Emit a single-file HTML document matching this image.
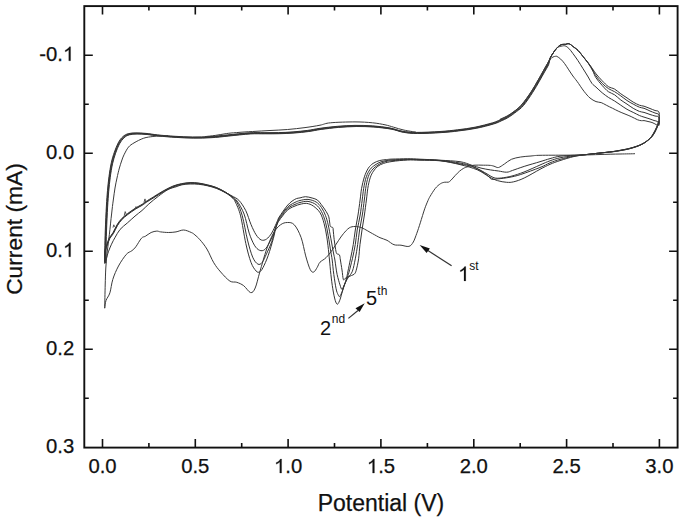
<!DOCTYPE html>
<html><head><meta charset="utf-8"><style>
html,body{margin:0;padding:0;background:#fff;}
svg{display:block;font-family:"Liberation Sans",sans-serif;}
</style></head><body>
<svg width="685" height="522" viewBox="0 0 685 522">
<path d="M102.5,6.1v8.5M102.5,447.6v-8.5M148.9,6.1v4.5M148.9,447.6v-4.5M195.3,6.1v8.5M195.3,447.6v-8.5M241.7,6.1v4.5M241.7,447.6v-4.5M288.1,6.1v8.5M288.1,447.6v-8.5M334.5,6.1v4.5M334.5,447.6v-4.5M380.9,6.1v8.5M380.9,447.6v-8.5M427.4,6.1v4.5M427.4,447.6v-4.5M473.8,6.1v8.5M473.8,447.6v-8.5M520.2,6.1v4.5M520.2,447.6v-4.5M566.6,6.1v8.5M566.6,447.6v-8.5M613.0,6.1v4.5M613.0,447.6v-4.5M659.4,6.1v8.5M659.4,447.6v-8.5M84.3,55.2h8.5M677.6,55.2h-8.5M84.3,104.2h4.5M677.6,104.2h-4.5M84.3,153.2h8.5M677.6,153.2h-8.5M84.3,202.2h4.5M677.6,202.2h-4.5M84.3,251.2h8.5M677.6,251.2h-8.5M84.3,300.2h4.5M677.6,300.2h-4.5M84.3,349.2h8.5M677.6,349.2h-8.5M84.3,398.2h4.5M677.6,398.2h-4.5" stroke="#111" stroke-width="1.6" fill="none"/>
<rect x="84.3" y="6.1" width="593.3" height="441.5" stroke="#111" stroke-width="1.9" fill="none"/>
<text x="88.39" y="473.00" font-size="20.3" fill="#111" stroke="#111" stroke-width="0.25">0.0</text>
<text x="181.21" y="473.00" font-size="20.3" fill="#111" stroke="#111" stroke-width="0.25">0.5</text>
<path transform="translate(274.02,473.00) scale(0.009912,-0.009912)" d="M763,0L583,0L583,1098C540,1059 483,1019 413,980C343,941 280,911 223,891L223,1058C324,1103 413,1158 488,1222C563,1286 616,1350 647,1409L763,1409Z" fill="#111" stroke="#111" stroke-width="25.2"/><text x="285.31" y="473.00" font-size="20.3" fill="#111" stroke="#111" stroke-width="0.25">.0</text>
<path transform="translate(366.84,473.00) scale(0.009912,-0.009912)" d="M763,0L583,0L583,1098C540,1059 483,1019 413,980C343,941 280,911 223,891L223,1058C324,1103 413,1158 488,1222C563,1286 616,1350 647,1409L763,1409Z" fill="#111" stroke="#111" stroke-width="25.2"/><text x="378.13" y="473.00" font-size="20.3" fill="#111" stroke="#111" stroke-width="0.25">.5</text>
<text x="459.65" y="473.00" font-size="20.3" fill="#111" stroke="#111" stroke-width="0.25">2.0</text>
<text x="552.47" y="473.00" font-size="20.3" fill="#111" stroke="#111" stroke-width="0.25">2.5</text>
<text x="645.28" y="473.00" font-size="20.3" fill="#111" stroke="#111" stroke-width="0.25">3.0</text>
<text x="39.32" y="60.70" font-size="20.3" fill="#111" stroke="#111" stroke-width="0.25">-0.</text><path transform="translate(63.01,60.70) scale(0.009912,-0.009912)" d="M763,0L583,0L583,1098C540,1059 483,1019 413,980C343,941 280,911 223,891L223,1058C324,1103 413,1158 488,1222C563,1286 616,1350 647,1409L763,1409Z" fill="#111" stroke="#111" stroke-width="25.2"/>
<text x="46.08" y="158.70" font-size="20.3" fill="#111" stroke="#111" stroke-width="0.25">0.0</text>
<text x="46.08" y="256.70" font-size="20.3" fill="#111" stroke="#111" stroke-width="0.25">0.</text><path transform="translate(63.01,256.70) scale(0.009912,-0.009912)" d="M763,0L583,0L583,1098C540,1059 483,1019 413,980C343,941 280,911 223,891L223,1058C324,1103 413,1158 488,1222C563,1286 616,1350 647,1409L763,1409Z" fill="#111" stroke="#111" stroke-width="25.2"/>
<text x="46.08" y="354.70" font-size="20.3" fill="#111" stroke="#111" stroke-width="0.25">0.2</text>
<text x="46.08" y="452.70" font-size="20.3" fill="#111" stroke="#111" stroke-width="0.25">0.3</text>
<text x="381" y="510.8" font-size="23" text-anchor="middle" fill="#111" stroke="#111" stroke-width="0.25">Potential (V)</text>
<text transform="translate(22.3,229) rotate(-90)" font-size="22.8" text-anchor="middle" fill="#111" stroke="#111" stroke-width="0.25">Current (mA)</text>
<path d="M658.6,121.5C658.5,122.0 658.6,123.1 658.2,124.5C657.8,125.9 657.1,127.8 656.2,129.7C655.3,131.6 654.1,134.0 652.8,135.7C651.5,137.4 650.0,138.7 648.4,140.0C646.8,141.3 645.2,142.4 643.3,143.4C641.4,144.4 639.7,145.1 637.2,146.0C634.8,146.9 631.5,147.9 628.6,148.6C625.7,149.3 622.6,149.8 620.0,150.3C617.4,150.8 616.6,151.0 613.0,151.5C609.4,152.0 602.9,152.7 598.4,153.2C593.9,153.7 590.1,154.2 586.0,154.6C581.9,154.9 578.3,155.0 574.0,155.3C569.7,155.6 564.0,155.6 560.0,156.2C556.0,156.8 553.3,157.7 550.0,158.6C546.7,159.5 544.3,160.4 540.0,161.7C535.7,163.0 528.8,164.9 524.2,166.4C519.6,167.9 515.5,169.4 512.6,170.4C509.7,171.4 509.1,172.1 506.7,172.2C504.3,172.3 501.2,171.4 498.5,171.0C495.8,170.6 493.3,170.4 490.4,169.9C487.5,169.4 484.1,168.9 481.0,168.1C477.9,167.3 475.2,166.3 471.7,165.2C468.2,164.1 465.3,162.5 460.0,161.7C454.7,160.9 446.7,160.6 440.0,160.2C433.3,159.8 425.4,159.4 420.0,159.2C414.6,159.0 412.3,158.8 407.6,158.8C402.9,158.8 395.5,159.0 392.0,159.1C388.5,159.2 388.4,159.4 386.4,159.6C384.4,159.8 382.0,159.9 379.8,160.5C377.6,161.1 375.0,162.1 373.1,163.4C371.2,164.7 369.8,166.0 368.3,168.2C366.9,170.4 365.5,173.5 364.4,176.8C363.3,180.2 362.3,184.4 361.6,188.3C360.9,192.2 360.7,195.6 360.1,200.0C359.5,204.4 358.8,210.0 358.0,215.0C357.2,220.0 356.1,225.1 355.3,230.0C354.5,234.9 354.1,239.6 353.3,244.4C352.5,249.2 351.4,254.4 350.5,258.8C349.6,263.2 348.7,267.7 348.0,271.0C347.3,274.3 347.0,276.6 346.4,278.8C345.8,281.0 345.3,282.1 344.6,284.1C343.9,286.2 343.1,288.6 342.4,291.1C341.7,293.6 341.0,296.9 340.2,299.1C339.4,301.3 338.3,304.0 337.5,304.2C336.7,304.4 336.0,302.9 335.2,300.3C334.4,297.7 333.5,293.1 332.8,288.8C332.1,284.5 331.4,279.2 330.9,274.4C330.3,269.6 329.9,263.6 329.5,260.0C329.1,256.4 329.2,256.9 328.8,253.0C328.4,249.2 327.6,241.8 326.8,236.9C326.0,232.0 325.2,227.5 324.1,223.5C323.0,219.5 321.9,215.7 320.1,212.8C318.3,209.9 315.6,207.7 313.4,206.1C311.2,204.5 308.9,203.7 306.7,203.4C304.5,203.1 301.9,203.9 300.0,204.3C298.1,204.7 296.7,205.3 295.0,206.0C293.3,206.7 291.5,207.4 290.0,208.3C288.5,209.2 287.2,210.3 286.0,211.6C284.8,212.9 283.7,214.4 282.5,216.0C281.3,217.6 279.7,219.5 278.6,221.4C277.5,223.3 276.9,224.7 276.0,227.5C275.1,230.3 274.7,233.6 273.4,238.3C272.1,243.0 269.9,250.6 268.2,255.5C266.5,260.4 264.4,264.9 263.0,267.6C261.6,270.3 260.8,271.3 259.6,271.9C258.5,272.5 257.5,272.6 256.1,271.0C254.7,269.4 252.7,267.0 251.0,262.4C249.3,257.8 247.5,251.2 245.8,243.4C244.1,235.7 242.3,222.8 240.6,215.9C238.9,209.0 236.8,205.2 235.4,202.1C234.0,199.0 233.7,199.1 232.0,197.5C230.3,195.9 227.7,194.0 225.1,192.5C222.5,191.0 219.3,189.5 216.4,188.4C213.5,187.3 210.5,186.5 207.6,185.8C204.7,185.1 201.7,184.6 198.8,184.3C195.9,184.0 192.9,183.9 190.1,184.0C187.3,184.1 184.3,184.3 182.0,184.8C179.7,185.3 178.3,186.0 176.0,186.8C173.7,187.6 170.8,188.0 167.9,189.6C165.0,191.2 161.5,193.9 158.3,196.3C155.1,198.7 151.5,201.6 148.8,204.0C146.1,206.4 144.3,208.5 142.0,210.5C139.7,212.5 137.4,214.0 135.0,216.1C132.6,218.2 129.8,220.8 127.3,223.0C124.8,225.2 122.0,227.1 120.0,229.5C118.0,231.9 116.6,234.8 115.2,237.2C113.8,239.6 112.6,241.8 111.5,244.2C110.4,246.6 109.3,249.2 108.4,251.8C107.5,254.4 106.7,257.6 106.1,259.5C105.5,261.4 105.2,262.6 104.9,263.0C104.7,263.4 104.6,264.2 104.6,262.0C104.6,259.8 104.7,255.3 104.8,250.0C104.9,244.7 105.0,237.3 105.3,230.0C105.6,222.7 106.0,212.6 106.4,206.0C106.8,199.4 107.1,195.3 107.5,190.4C107.9,185.5 108.4,181.2 109.0,176.6C109.6,172.0 110.4,166.9 111.3,162.8C112.2,158.7 113.2,155.4 114.4,152.1C115.6,148.8 116.8,145.5 118.2,142.9C119.6,140.3 121.1,138.2 122.8,136.7C124.5,135.2 126.0,134.3 128.2,133.7C130.4,133.1 132.9,132.9 135.9,132.9C138.9,132.9 142.4,133.1 146.0,133.4C149.6,133.7 152.7,134.4 157.5,134.9C162.3,135.4 169.2,136.0 175.0,136.3C180.8,136.7 186.8,136.9 192.6,137.0C198.4,137.1 204.2,136.9 210.0,136.6C215.8,136.2 221.1,135.5 227.6,134.9C234.1,134.3 243.1,133.2 249.2,132.8C255.3,132.4 259.1,132.7 264.0,132.7C268.9,132.7 273.6,132.7 278.4,132.6C283.2,132.5 288.1,132.3 293.0,131.9C297.9,131.5 303.1,131.0 307.6,130.4C312.1,129.8 315.0,129.0 320.0,128.3C325.0,127.6 331.7,126.8 337.5,126.3C343.3,125.8 349.1,125.5 355.0,125.4C360.9,125.3 366.8,125.5 372.6,125.9C378.4,126.3 385.1,127.1 390.0,128.0C394.9,128.9 397.9,130.5 402.3,131.2C406.7,131.9 410.1,132.3 416.4,132.4C422.7,132.5 433.1,131.9 440.0,131.5C446.9,131.1 451.7,130.5 457.5,129.8C463.3,129.1 469.1,128.4 475.0,127.2C480.9,126.0 488.4,124.0 492.6,122.8C496.8,121.6 497.7,120.8 500.0,119.8C502.3,118.8 504.1,118.1 506.6,116.6C509.2,115.0 512.7,112.5 515.3,110.5C517.9,108.5 519.6,107.6 522.3,104.4C525.0,101.2 528.9,95.4 531.5,91.3C534.1,87.2 536.2,83.4 538.2,80.0C540.2,76.6 541.8,73.6 543.3,70.9C544.8,68.2 546.2,65.9 547.4,63.7C548.6,61.5 549.4,59.5 550.4,57.6C551.4,55.7 552.5,54.0 553.5,52.5C554.5,51.0 555.6,49.6 556.6,48.4C557.6,47.2 558.6,46.2 559.6,45.5C560.6,44.8 561.7,44.6 562.7,44.4C563.7,44.2 564.9,44.4 565.8,44.3C566.7,44.2 567.2,43.6 568.0,43.6C568.8,43.6 569.7,44.0 570.5,44.5C571.3,45.0 571.6,45.4 572.9,46.4C574.1,47.4 576.3,48.7 578.0,50.4C579.7,52.1 581.4,54.5 583.1,56.6C584.8,58.7 586.6,60.9 588.2,62.9C589.8,64.9 591.2,67.0 592.5,68.8C593.8,70.6 594.4,71.8 596.0,73.8C597.6,75.8 600.1,78.7 602.2,80.8C604.3,82.9 606.3,85.2 608.4,86.6C610.5,88.0 612.5,87.9 614.6,89.1C616.7,90.3 618.7,92.3 620.8,93.8C622.9,95.3 624.9,96.5 627.0,97.9C629.1,99.3 631.1,100.9 633.2,102.1C635.3,103.3 637.6,104.5 639.4,105.2C641.2,105.9 642.2,105.7 644.0,106.2C645.8,106.8 648.2,107.8 650.0,108.5C651.8,109.2 653.5,110.0 655.0,110.5C656.5,111.0 658.1,110.5 658.8,111.8C659.5,113.0 659.3,116.0 659.3,118.0C659.3,120.0 659.0,123.0 659.0,124.0" fill="none" stroke="#333" stroke-width="1.0" stroke-linejoin="round"/>
<path d="M658.6,121.5C658.5,122.0 658.5,123.2 658.0,124.7C657.5,126.1 656.7,128.1 655.8,130.0C654.8,131.9 653.6,134.3 652.3,136.0C651.0,137.7 649.5,139.0 647.9,140.3C646.4,141.6 644.7,142.7 642.8,143.7C641.0,144.7 639.2,145.4 636.8,146.3C634.3,147.2 631.1,148.1 628.2,148.8C625.4,149.5 622.3,150.0 619.8,150.5C617.2,150.9 616.4,151.1 612.9,151.6C609.3,152.0 602.9,152.7 598.4,153.2C593.9,153.7 590.1,154.2 586.0,154.6C581.9,155.0 578.3,155.2 574.0,155.7C569.7,156.2 564.0,157.0 560.0,157.8C556.0,158.7 553.3,159.6 550.0,160.8C546.7,162.0 544.3,163.1 540.0,165.0C535.7,166.9 528.7,170.2 524.0,172.0C519.3,173.8 515.8,175.0 512.0,176.0C508.2,177.0 504.3,177.7 501.3,178.0C498.3,178.3 496.2,178.4 494.0,177.8C491.8,177.2 490.2,175.7 488.0,174.5C485.8,173.3 483.7,171.9 481.0,170.5C478.3,169.1 475.2,167.2 471.7,166.0C468.2,164.8 465.3,163.9 460.0,163.0C454.7,162.1 446.7,161.0 440.0,160.4C433.3,159.8 425.4,159.7 420.0,159.5C414.6,159.3 412.3,159.1 407.6,159.2C402.9,159.3 395.4,159.7 392.0,159.9C388.6,160.1 388.8,160.2 387.0,160.5C385.2,160.8 383.0,161.1 381.0,161.8C379.0,162.6 376.8,163.7 375.0,165.0C373.2,166.3 371.4,167.5 370.0,169.5C368.6,171.5 367.4,173.7 366.3,176.8C365.2,179.9 364.4,184.4 363.7,188.3C363.0,192.2 362.8,195.6 362.2,200.0C361.6,204.4 361.0,210.0 360.2,215.0C359.4,220.0 358.0,225.1 357.2,230.0C356.4,234.9 356.1,239.6 355.3,244.4C354.5,249.2 353.4,254.2 352.4,258.8C351.3,263.4 349.9,268.9 349.0,272.2C348.1,275.5 347.5,276.8 346.8,278.8C346.1,280.8 345.5,282.2 344.8,284.1C344.1,286.0 343.4,288.4 342.8,290.0C342.2,291.6 341.8,292.7 341.2,293.8C340.6,294.9 340.0,296.5 339.5,296.6C339.0,296.7 338.6,295.8 338.0,294.5C337.4,293.2 336.8,292.2 336.1,288.8C335.4,285.4 334.5,279.2 333.8,274.4C333.1,269.6 332.7,263.8 332.2,260.0C331.7,256.2 331.5,255.8 330.8,251.7C330.1,247.6 329.1,240.5 328.2,235.6C327.3,230.7 326.6,226.2 325.5,222.2C324.4,218.2 323.0,214.3 321.4,211.4C319.8,208.5 318.3,206.4 316.1,204.7C313.9,203.0 310.7,201.8 308.0,201.4C305.3,201.0 302.2,202.0 300.0,202.5C297.8,203.0 296.7,203.7 295.0,204.4C293.3,205.1 291.5,205.8 290.0,206.8C288.5,207.8 287.2,208.9 286.0,210.2C284.8,211.5 283.7,212.9 282.5,214.6C281.3,216.3 279.8,218.2 278.6,220.3C277.4,222.5 276.6,223.9 275.5,227.5C274.4,231.1 273.2,237.3 271.7,241.7C270.2,246.1 268.1,250.4 266.5,253.8C264.9,257.2 263.6,260.7 262.2,262.4C260.8,264.1 259.5,265.0 257.9,264.1C256.3,263.2 254.4,261.2 252.7,257.2C251.0,253.2 249.2,246.9 247.5,240.0C245.8,233.1 244.0,222.1 242.3,215.9C240.6,209.7 238.9,206.1 237.2,202.9C235.5,199.8 234.0,198.8 232.0,197.0C230.0,195.2 227.7,193.5 225.1,191.9C222.5,190.3 219.3,188.7 216.4,187.5C213.5,186.3 210.5,185.6 207.6,184.9C204.7,184.2 201.7,183.5 198.8,183.1C195.9,182.7 193.0,182.5 190.1,182.6C187.2,182.7 184.2,183.1 181.3,183.7C178.4,184.3 175.7,185.0 172.7,186.2C169.7,187.4 166.3,189.2 163.1,191.0C159.9,192.8 156.5,195.0 153.6,196.8C150.7,198.6 147.8,200.3 145.9,201.6C144.0,202.9 143.8,203.3 142.0,204.4C140.2,205.5 137.4,206.8 135.0,208.4C132.6,210.0 129.6,212.0 127.3,213.8C125.0,215.6 122.9,217.2 121.2,219.1C119.5,221.0 118.3,222.7 116.9,225.0C115.5,227.3 114.3,230.5 113.0,232.7C111.7,234.9 110.2,236.1 109.2,238.0C108.2,239.9 107.6,242.4 106.9,244.2C106.2,246.0 105.6,247.4 105.2,249.0C104.8,250.6 104.6,251.8 104.6,254.0C104.6,256.2 104.9,263.0 105.0,262.4C105.1,261.8 105.1,255.7 105.2,250.4C105.3,245.0 105.4,237.7 105.7,230.4C106.0,223.0 106.4,213.0 106.8,206.4C107.2,199.8 107.5,195.7 107.9,190.8C108.3,185.9 108.8,181.6 109.4,177.0C110.0,172.4 110.8,167.3 111.7,163.2C112.6,159.1 113.7,155.8 114.8,152.5C116.0,149.2 117.2,145.8 118.6,143.3C120.0,140.7 121.5,138.6 123.2,137.1C124.9,135.5 126.4,134.7 128.6,134.1C130.8,133.4 133.3,133.3 136.3,133.3C139.3,133.2 142.8,133.4 146.4,133.8C150.0,134.1 153.1,134.8 157.9,135.3C162.7,135.8 169.6,136.3 175.4,136.7C181.2,137.0 187.2,137.3 193.0,137.4C198.8,137.4 204.6,137.3 210.4,137.0C216.2,136.6 221.5,135.9 228.0,135.3C234.5,134.6 243.5,133.5 249.6,133.2C255.7,132.8 259.5,133.1 264.4,133.1C269.3,133.0 274.0,133.1 278.8,133.0C283.6,132.8 288.5,132.6 293.4,132.3C298.3,131.9 303.5,131.4 308.0,130.8C312.5,130.2 315.4,129.4 320.4,128.7C325.4,128.0 332.1,127.2 337.9,126.7C343.7,126.2 349.5,125.8 355.4,125.8C361.2,125.7 367.2,125.8 373.0,126.3C378.8,126.7 385.4,127.5 390.4,128.4C395.3,129.3 398.3,130.8 402.7,131.6C407.1,132.3 410.5,132.7 416.8,132.8C423.1,132.8 433.5,132.3 440.4,131.9C447.2,131.4 452.1,130.9 457.9,130.2C463.7,129.5 469.5,128.7 475.4,127.6C481.2,126.4 488.8,124.4 493.0,123.2C497.2,121.9 498.1,121.2 500.4,120.2C502.7,119.1 504.4,118.5 507.0,117.0C509.6,115.4 513.1,112.9 515.7,110.9C518.3,108.8 520.0,108.0 522.7,104.8C525.4,101.6 529.2,95.7 531.9,91.7C534.5,87.6 536.6,83.8 538.6,80.4C540.6,77.0 542.2,74.0 543.7,71.3C545.2,68.6 546.7,66.4 547.8,64.1C548.9,61.8 549.4,59.5 550.4,57.6C551.4,55.7 552.5,54.0 553.5,52.5C554.5,51.0 555.6,49.6 556.6,48.4C557.6,47.2 558.6,46.2 559.6,45.5C560.6,44.8 561.7,44.6 562.7,44.4C563.7,44.2 564.9,44.4 565.8,44.3C566.7,44.2 567.2,43.6 568.0,43.6C568.8,43.6 569.7,44.0 570.5,44.5C571.3,45.0 571.6,45.4 572.9,46.4C574.1,47.4 576.3,48.7 578.0,50.4C579.7,52.1 581.4,54.5 583.1,56.6C584.8,58.7 586.6,60.7 588.2,62.9C589.8,65.1 591.5,67.8 592.8,70.0C594.1,72.2 594.4,73.6 596.0,75.8C597.6,78.0 600.1,81.3 602.2,83.4C604.3,85.5 606.3,87.2 608.4,88.6C610.5,90.0 612.5,90.5 614.6,91.7C616.7,92.9 618.7,94.4 620.8,95.9C622.9,97.4 624.9,99.1 627.0,100.5C629.1,101.9 631.1,103.0 633.2,104.1C635.3,105.2 637.6,106.5 639.4,107.2C641.2,107.9 642.2,107.7 644.0,108.3C645.8,108.9 648.2,110.2 650.0,111.0C651.8,111.8 653.6,112.4 655.0,113.0C656.4,113.6 657.9,113.4 658.6,114.4C659.3,115.4 659.1,117.3 659.2,119.0C659.3,120.7 659.0,123.6 659.0,124.5" fill="none" stroke="#333" stroke-width="1.0" stroke-linejoin="round"/>
<path d="M658.6,121.5C658.5,122.0 658.3,123.3 657.8,124.8C657.2,126.3 656.3,128.4 655.3,130.3C654.3,132.2 653.2,134.6 651.9,136.3C650.6,138.0 649.1,139.3 647.5,140.6C645.9,141.9 644.3,143.0 642.4,144.0C640.5,145.0 638.7,145.8 636.3,146.6C633.9,147.4 630.7,148.4 627.9,149.1C625.1,149.7 622.1,150.2 619.5,150.6C617.0,151.0 616.3,151.2 612.7,151.7C609.2,152.1 602.9,152.7 598.4,153.2C593.9,153.7 590.1,154.1 586.0,154.6C581.9,155.1 578.3,155.3 574.0,156.1C569.7,156.9 564.0,158.3 560.0,159.4C556.0,160.5 553.3,161.5 550.0,162.8C546.7,164.2 544.9,165.6 540.0,167.5C535.1,169.4 525.9,172.8 520.7,174.5C515.5,176.2 512.7,176.7 509.0,177.4C505.3,178.1 501.4,178.5 498.5,178.8C495.6,179.1 493.2,179.7 491.5,179.2C489.8,178.7 489.8,177.1 488.0,175.7C486.2,174.3 483.7,172.6 481.0,171.0C478.3,169.4 475.2,167.6 471.7,166.4C468.2,165.2 465.3,165.0 460.0,164.0C454.7,163.0 446.7,161.3 440.0,160.6C433.3,159.9 425.4,160.0 420.0,159.8C414.6,159.6 412.3,159.4 407.6,159.6C402.9,159.8 395.4,160.4 392.0,160.7C388.6,161.0 389.2,160.8 387.5,161.2C385.8,161.5 383.8,162.0 382.0,162.8C380.2,163.6 378.2,164.8 376.5,166.0C374.8,167.2 373.2,168.5 371.8,170.3C370.4,172.1 369.2,173.8 368.2,176.8C367.2,179.8 366.3,184.4 365.7,188.3C365.1,192.2 364.9,195.6 364.3,200.0C363.7,204.4 363.1,210.0 362.3,215.0C361.5,220.0 360.4,225.1 359.6,230.0C358.8,234.9 358.4,239.6 357.7,244.4C357.0,249.2 356.2,254.3 355.3,258.8C354.4,263.3 353.5,268.2 352.4,271.2C351.3,274.2 349.6,275.3 348.5,277.0C347.4,278.7 346.8,280.0 346.0,281.5C345.2,283.0 344.5,284.7 343.8,286.0C343.1,287.3 342.5,289.6 341.9,289.4C341.3,289.2 340.8,287.4 340.0,284.9C339.2,282.4 338.0,278.5 337.1,274.4C336.2,270.2 335.5,263.6 334.9,260.0C334.3,256.4 334.2,256.6 333.5,253.0C332.8,249.4 331.7,243.0 330.8,238.3C329.9,233.6 329.1,228.7 328.2,224.9C327.3,221.1 326.6,218.4 325.5,215.5C324.4,212.6 323.0,209.7 321.4,207.4C319.8,205.2 318.3,203.3 316.1,202.0C313.9,200.7 310.7,199.7 308.0,199.4C305.3,199.2 302.2,200.0 300.0,200.5C297.8,201.0 296.7,201.6 295.0,202.4C293.3,203.2 291.5,204.1 290.0,205.2C288.5,206.3 287.2,207.4 286.0,208.8C284.8,210.2 283.7,211.7 282.5,213.4C281.3,215.1 279.8,216.5 278.6,219.2C277.4,221.9 276.6,225.9 275.1,229.7C273.7,233.4 271.6,238.4 269.9,241.7C268.2,245.0 266.5,248.1 264.8,249.5C263.1,250.9 261.3,251.0 259.6,250.3C257.9,249.6 256.1,248.1 254.4,245.2C252.7,242.3 250.9,238.3 249.2,233.1C247.5,227.9 246.1,219.4 244.1,214.1C242.1,208.8 239.2,204.1 237.2,201.2C235.2,198.3 234.0,198.0 232.0,196.5C230.0,195.0 227.9,193.7 225.3,192.2C222.8,190.8 219.6,189.0 216.7,187.8C213.7,186.7 210.8,186.0 207.8,185.2C204.9,184.5 202.0,183.8 199.1,183.4C196.1,183.1 193.3,182.8 190.3,182.9C187.4,183.0 184.5,183.4 181.6,184.0C178.7,184.6 176.0,185.3 172.9,186.5C169.9,187.8 166.5,189.6 163.3,191.3C160.2,193.1 156.7,195.4 153.8,197.2C151.0,198.9 148.1,200.7 146.2,201.9C144.2,203.2 144.1,203.6 142.2,204.8C140.4,205.9 137.7,207.2 135.2,208.8C132.8,210.3 129.8,212.4 127.5,214.2C125.2,215.9 123.2,217.6 121.5,219.4C119.7,221.3 118.5,223.1 117.2,225.3C115.8,227.6 114.5,230.9 113.2,233.0C112.0,235.2 110.5,236.4 109.5,238.3C108.4,240.3 107.8,242.7 107.2,244.5C106.5,246.4 105.8,247.7 105.5,249.3C105.1,251.0 104.9,252.1 104.8,254.3C104.8,256.6 105.3,263.4 105.4,262.8C105.5,262.2 105.5,256.1 105.6,250.8C105.7,245.4 105.8,238.1 106.1,230.8C106.4,223.4 106.8,213.4 107.2,206.8C107.6,200.2 107.9,196.1 108.3,191.2C108.7,186.3 109.2,182.0 109.8,177.4C110.4,172.8 111.2,167.6 112.1,163.6C113.0,159.5 114.0,156.2 115.2,152.9C116.4,149.5 117.6,146.2 119.0,143.7C120.4,141.1 121.9,139.0 123.6,137.5C125.3,135.9 126.8,135.1 129.0,134.5C131.2,133.8 133.7,133.7 136.7,133.7C139.7,133.6 143.2,133.8 146.8,134.2C150.4,134.5 153.5,135.2 158.3,135.7C163.1,136.1 170.0,136.7 175.8,137.1C181.7,137.4 187.6,137.7 193.4,137.8C199.2,137.8 205.0,137.7 210.8,137.4C216.6,137.0 221.9,136.3 228.4,135.7C234.9,135.0 243.9,133.9 250.0,133.6C256.1,133.2 259.9,133.5 264.8,133.5C269.7,133.4 274.4,133.5 279.2,133.4C284.0,133.2 288.9,133.0 293.8,132.7C298.7,132.3 303.9,131.8 308.4,131.2C312.9,130.6 315.8,129.7 320.8,129.1C325.8,128.4 332.5,127.5 338.3,127.1C344.1,126.6 349.9,126.2 355.8,126.2C361.7,126.1 367.6,126.2 373.4,126.7C379.2,127.1 385.9,127.9 390.8,128.8C395.8,129.6 398.7,131.2 403.1,132.0C407.5,132.7 410.9,133.1 417.2,133.2C423.5,133.2 433.9,132.7 440.8,132.3C447.7,131.8 452.5,131.3 458.3,130.6C464.1,129.8 469.9,129.1 475.8,128.0C481.7,126.8 489.2,124.8 493.4,123.6C497.6,122.3 498.5,121.6 500.8,120.6C503.1,119.5 504.9,118.9 507.4,117.4C510.0,115.8 513.5,113.3 516.1,111.3C518.7,109.2 520.4,108.4 523.1,105.2C525.8,102.0 529.6,96.1 532.3,92.1C534.9,88.0 537.0,84.2 539.0,80.8C541.0,77.4 542.6,74.4 544.1,71.7C545.6,68.9 547.1,66.8 548.2,64.5C549.2,62.1 549.5,59.6 550.4,57.6C551.3,55.6 552.5,54.0 553.5,52.5C554.5,51.0 555.6,49.6 556.6,48.4C557.6,47.2 558.6,46.2 559.6,45.5C560.6,44.8 561.7,44.6 562.7,44.4C563.7,44.2 564.9,44.4 565.8,44.3C566.7,44.2 567.2,43.6 568.0,43.6C568.8,43.6 569.7,44.0 570.5,44.5C571.3,45.0 571.6,45.4 572.9,46.4C574.1,47.4 576.3,48.7 578.0,50.4C579.7,52.1 581.4,54.4 583.1,56.6C584.8,58.8 586.8,61.1 588.4,63.5C590.0,65.9 591.5,68.6 592.8,71.0C594.1,73.4 594.4,75.4 596.0,77.8C597.6,80.2 600.1,83.2 602.2,85.5C604.3,87.8 606.3,90.2 608.4,91.7C610.5,93.2 612.5,93.4 614.6,94.8C616.7,96.2 618.7,98.5 620.8,100.0C622.9,101.5 624.9,102.7 627.0,104.1C629.1,105.5 631.1,107.1 633.2,108.3C635.3,109.5 637.6,110.7 639.4,111.4C641.2,112.1 642.2,111.9 644.0,112.4C645.8,112.9 648.2,113.9 650.0,114.5C651.8,115.1 653.6,115.6 655.0,116.0C656.4,116.4 657.7,116.0 658.4,116.8C659.1,117.6 658.9,119.6 659.0,121.0C659.1,122.4 659.0,124.3 659.0,125.0" fill="none" stroke="#333" stroke-width="1.0" stroke-linejoin="round"/>
<path d="M658.6,121.5C658.4,122.1 658.2,123.4 657.5,125.0C656.9,126.5 655.9,128.7 654.9,130.6C653.8,132.5 652.8,134.9 651.4,136.6C650.1,138.3 648.6,139.6 647.0,140.9C645.5,142.2 643.8,143.3 641.9,144.3C640.1,145.3 638.3,146.1 635.9,146.9C633.4,147.7 630.3,148.7 627.5,149.3C624.8,150.0 621.8,150.3 619.3,150.8C616.8,151.2 616.1,151.4 612.6,151.8C609.1,152.2 602.8,152.7 598.4,153.2C594.0,153.7 590.1,154.0 586.0,154.6C581.9,155.2 578.3,155.5 574.0,156.5C569.7,157.5 564.0,159.3 560.0,160.6C556.0,161.9 553.3,162.9 550.0,164.3C546.7,165.8 544.3,167.0 540.0,169.3C535.7,171.6 528.6,175.9 524.2,178.0C519.8,180.1 516.6,181.1 513.7,181.8C510.8,182.5 509.4,182.5 506.7,182.3C504.0,182.1 500.3,181.5 497.4,180.6C494.5,179.7 492.5,178.7 489.2,176.9C485.9,175.1 482.4,172.0 477.5,169.9C472.6,167.8 466.2,166.1 460.0,164.6C453.8,163.1 446.7,161.5 440.0,160.8C433.3,160.1 425.4,160.3 420.0,160.2C414.6,160.1 412.3,159.8 407.6,160.0C402.9,160.2 396.0,160.9 392.0,161.5C388.0,162.1 386.0,162.6 383.6,163.4C381.2,164.2 379.5,165.0 377.8,166.3C376.1,167.6 374.8,169.2 373.5,171.1C372.2,173.0 371.1,174.9 370.2,177.8C369.2,180.7 368.4,184.6 367.8,188.3C367.2,192.0 367.0,195.6 366.4,200.0C365.8,204.4 365.1,210.0 364.4,215.0C363.7,220.0 362.7,225.1 362.0,230.0C361.3,234.9 360.6,239.6 360.0,244.4C359.4,249.2 359.2,254.5 358.6,258.8C358.0,263.1 356.9,267.8 356.2,270.3C355.5,272.9 355.1,273.2 354.3,274.1C353.5,275.0 352.4,275.0 351.4,275.5C350.3,276.0 349.1,276.5 348.0,277.0C346.9,277.5 345.8,278.1 345.0,278.5C344.2,278.9 343.8,280.8 343.3,279.4C342.8,278.0 342.5,273.2 342.0,270.0C341.5,266.8 340.8,262.3 340.4,260.0C340.0,257.7 340.1,256.9 339.8,256.0C339.6,255.1 339.4,254.8 338.9,254.4C338.4,254.0 337.2,254.5 336.6,253.4C336.0,252.3 335.8,250.3 335.4,248.0C335.0,245.7 334.6,242.6 334.2,239.6C333.8,236.6 333.4,232.0 333.2,230.0C333.0,228.0 333.3,228.2 332.8,227.6C332.3,227.0 330.9,227.3 330.4,226.4C329.9,225.5 329.9,223.6 329.6,222.0C329.3,220.4 329.4,218.6 328.8,216.8C328.2,215.0 327.3,213.4 326.1,211.4C324.9,209.4 322.8,206.6 321.4,204.7C319.9,202.8 318.9,201.1 317.4,200.0C315.8,198.9 314.1,198.6 312.1,198.0C310.1,197.4 307.4,196.7 305.4,196.7C303.4,196.7 301.5,197.6 300.0,197.9C298.5,198.2 297.7,198.1 296.4,198.6C295.1,199.1 293.4,200.1 292.0,201.2C290.6,202.3 289.3,203.3 287.8,205.0C286.3,206.7 284.7,208.9 283.2,211.1C281.7,213.3 279.8,215.9 278.6,218.0C277.5,220.1 277.5,221.0 276.3,223.5C275.1,226.0 273.3,230.5 271.7,233.1C270.1,235.7 268.2,237.9 266.5,239.1C264.8,240.2 263.0,240.7 261.3,240.0C259.6,239.3 257.8,237.4 256.1,234.8C254.4,232.2 252.7,228.5 251.0,224.5C249.3,220.5 247.8,214.7 245.8,210.7C243.8,206.7 241.2,202.8 238.9,200.3C236.6,197.9 234.2,197.3 232.0,196.0C229.8,194.7 228.1,193.9 225.6,192.6C223.1,191.3 219.8,189.4 216.9,188.2C214.0,187.0 211.0,186.3 208.1,185.6C205.2,184.9 202.2,184.2 199.3,183.8C196.4,183.4 193.5,183.2 190.6,183.3C187.7,183.4 184.7,183.8 181.8,184.4C178.9,185.0 176.2,185.7 173.2,186.9C170.2,188.1 166.8,189.9 163.6,191.7C160.4,193.5 157.0,195.7 154.1,197.5C151.2,199.3 148.3,201.0 146.4,202.3C144.5,203.6 144.3,204.0 142.5,205.1C140.7,206.2 137.9,207.5 135.5,209.1C133.1,210.7 130.1,212.7 127.8,214.5C125.5,216.3 123.4,217.9 121.7,219.8C120.0,221.7 118.8,223.4 117.4,225.7C116.0,228.0 114.8,231.2 113.5,233.4C112.2,235.6 110.7,236.8 109.7,238.7C108.7,240.6 108.1,243.1 107.4,244.9C106.7,246.7 106.1,248.1 105.7,249.7C105.3,251.3 105.1,252.5 105.1,254.7C105.1,256.9 105.6,263.7 105.8,263.1C106.0,262.5 105.9,256.5 106.0,251.1C106.1,245.8 106.2,238.5 106.5,231.1C106.8,223.8 107.2,213.7 107.6,207.1C108.0,200.5 108.3,196.4 108.7,191.5C109.1,186.6 109.6,182.3 110.2,177.7C110.8,173.1 111.6,168.0 112.5,163.9C113.4,159.9 114.5,156.6 115.6,153.2C116.8,149.9 118.0,146.6 119.4,144.0C120.8,141.5 122.3,139.4 124.0,137.8C125.7,136.3 127.2,135.5 129.4,134.8C131.6,134.2 134.1,134.1 137.1,134.0C140.1,134.0 143.6,134.2 147.2,134.5C150.8,134.9 153.9,135.6 158.7,136.0C163.5,136.5 170.3,137.1 176.2,137.4C182.0,137.8 188.0,138.1 193.8,138.1C199.6,138.2 205.4,138.1 211.2,137.7C217.0,137.4 222.3,136.7 228.8,136.0C235.3,135.4 244.3,134.3 250.4,133.9C256.5,133.6 260.3,133.9 265.2,133.8C270.1,133.8 274.8,133.9 279.6,133.7C284.4,133.6 289.3,133.4 294.2,133.0C299.1,132.7 304.3,132.1 308.8,131.5C313.3,130.9 316.2,130.1 321.2,129.4C326.2,128.8 332.9,127.9 338.7,127.4C344.5,127.0 350.3,126.6 356.2,126.5C362.1,126.5 368.0,126.6 373.8,127.0C379.6,127.5 386.2,128.3 391.2,129.1C396.1,130.0 399.1,131.6 403.5,132.3C407.9,133.1 411.3,133.5 417.6,133.5C423.9,133.6 434.3,133.1 441.2,132.6C448.1,132.2 452.9,131.7 458.7,130.9C464.5,130.2 470.3,129.5 476.2,128.3C482.1,127.2 489.6,125.2 493.8,123.9C498.0,122.7 498.9,122.0 501.2,120.9C503.5,119.9 505.2,119.3 507.8,117.7C510.4,116.2 513.9,113.7 516.5,111.6C519.1,109.6 520.8,108.7 523.5,105.5C526.2,102.3 530.1,96.5 532.7,92.4C535.4,88.4 537.4,84.5 539.4,81.1C541.4,77.7 543.0,74.8 544.5,72.0C546.0,69.3 547.6,67.2 548.6,64.8C549.6,62.4 549.6,59.7 550.4,57.6C551.2,55.5 552.6,53.9 553.5,52.5C554.4,51.1 554.8,50.3 555.5,49.4C556.2,48.5 557.1,47.7 558.0,47.2C558.9,46.7 559.6,46.6 560.7,46.4C561.8,46.2 563.4,45.5 564.7,45.8C566.1,46.1 567.4,47.1 568.8,48.4C570.2,49.7 571.4,51.5 572.9,53.5C574.4,55.5 576.3,58.2 578.0,60.7C579.7,63.2 581.4,66.1 583.1,68.8C584.8,71.5 586.7,74.5 588.2,77.0C589.7,79.5 590.7,81.8 592.0,83.5C593.3,85.2 594.3,85.5 596.0,87.1C597.7,88.6 600.1,91.1 602.2,92.8C604.3,94.5 606.3,96.0 608.4,97.4C610.5,98.8 612.5,99.7 614.6,101.0C616.7,102.3 618.7,103.8 620.8,105.2C622.9,106.6 624.9,108.1 627.0,109.3C629.1,110.5 631.1,111.4 633.2,112.4C635.3,113.4 637.6,114.7 639.4,115.5C641.2,116.3 642.2,116.5 644.0,117.1C645.8,117.7 648.3,118.4 650.0,119.0C651.7,119.6 652.8,120.1 654.0,120.5C655.2,120.9 656.7,120.9 657.5,121.5C658.3,122.1 658.4,123.2 658.6,124.0C658.8,124.8 658.8,125.7 658.8,126.0" fill="none" stroke="#333" stroke-width="1.0" stroke-linejoin="round"/>
<path d="M635.0,153.7C632.5,153.8 625.8,153.9 620.0,154.0C614.2,154.1 606.2,154.3 600.0,154.5C593.8,154.7 588.8,154.9 583.0,155.0C577.2,155.1 572.2,155.1 565.0,155.2C557.8,155.2 545.7,155.2 540.0,155.3C534.3,155.4 534.2,155.7 531.0,156.0C527.8,156.3 524.0,156.4 520.7,157.0C517.4,157.6 514.1,158.1 511.4,159.3C508.7,160.5 506.5,162.6 504.4,164.0C502.2,165.4 500.2,167.1 498.5,167.5C496.8,167.9 495.4,166.5 494.0,166.2C492.6,165.8 492.2,165.6 490.4,165.4C488.6,165.2 486.1,165.2 483.4,165.2C480.7,165.2 476.7,164.9 474.0,165.2C471.3,165.5 468.9,166.4 467.2,166.9C465.5,167.4 465.1,167.5 463.8,168.2C462.5,168.9 460.9,170.0 459.5,171.2C458.1,172.4 456.6,174.0 455.2,175.5C453.8,177.0 452.0,179.2 450.9,180.3C449.8,181.4 449.3,181.9 448.3,182.2C447.3,182.5 446.1,181.9 444.8,182.2C443.5,182.4 442.1,182.7 440.5,183.7C438.9,184.7 437.0,186.3 435.3,188.4C433.6,190.5 431.4,194.2 430.2,196.2C429.0,198.2 428.9,198.4 428.0,200.5C427.1,202.6 426.0,205.1 424.7,208.8C423.4,212.5 421.6,218.7 420.3,222.8C419.0,226.9 418.0,230.1 416.8,233.3C415.6,236.5 414.6,239.8 413.3,242.0C412.0,244.2 410.9,245.9 408.9,246.4C406.8,246.9 403.5,245.5 401.0,245.2C398.5,244.9 396.3,245.5 394.0,244.7C391.7,243.9 389.3,241.5 387.0,240.3C384.7,239.1 382.4,238.8 380.0,237.7C377.6,236.6 375.6,235.3 372.6,233.7C369.6,232.1 364.9,229.1 362.0,227.9C359.1,226.7 357.1,226.5 355.0,226.5C352.9,226.5 351.1,226.7 349.2,227.9C347.3,229.1 345.2,231.6 343.4,233.7C341.6,235.8 340.2,238.0 338.4,240.7C336.5,243.4 334.4,247.1 332.3,249.9C330.2,252.7 328.2,255.6 326.1,257.6C324.1,259.7 321.5,260.6 320.0,262.2C318.5,263.8 318.2,265.8 317.2,267.4C316.2,269.0 314.9,271.6 313.8,272.0C312.7,272.4 311.7,272.4 310.3,269.7C308.9,267.0 307.2,261.3 305.7,255.9C304.2,250.5 303.0,242.7 301.1,237.5C299.2,232.3 296.6,227.3 294.3,224.8C292.0,222.3 289.7,222.5 287.4,222.5C285.1,222.5 282.8,223.1 280.5,224.8C278.2,226.5 275.9,228.9 273.6,232.9C271.3,236.9 269.0,242.5 266.7,249.0C264.4,255.5 261.7,265.5 259.8,272.0C257.9,278.5 256.7,284.6 255.2,288.0C253.7,291.4 252.5,293.0 250.6,292.6C248.7,292.2 246.0,287.4 243.7,285.7C241.4,284.0 239.1,283.1 236.8,282.3C234.5,281.5 232.6,282.8 229.9,281.1C227.2,279.4 223.4,275.1 220.7,272.0C218.0,268.9 216.1,266.6 213.8,262.8C211.5,259.0 209.2,252.8 206.9,249.0C204.6,245.2 202.0,242.1 200.0,239.8C198.0,237.5 196.4,236.2 195.0,235.0C193.6,233.8 193.2,233.3 191.3,232.5C189.4,231.7 186.2,230.1 183.7,230.0C181.1,229.9 178.6,231.5 176.0,231.9C173.4,232.3 170.9,232.5 168.3,232.5C165.8,232.5 162.6,232.1 160.7,231.9C158.8,231.7 158.4,231.0 156.8,231.1C155.2,231.2 153.0,231.6 151.1,232.5C149.2,233.4 146.9,235.4 145.3,236.3C143.7,237.2 143.1,236.4 141.5,238.2C139.9,239.9 137.4,244.7 135.8,246.8C134.2,248.9 133.5,249.4 131.9,250.7C130.3,252.0 128.4,251.9 126.2,254.5C124.0,257.1 120.7,261.9 118.5,266.0C116.3,270.1 114.2,274.9 112.8,279.4C111.4,283.9 111.0,289.3 109.9,292.8C108.8,296.3 106.9,297.9 106.0,300.5C105.1,303.1 104.9,306.9 104.7,308.2" fill="none" stroke="#3a3a3a" stroke-width="1.0"/>
<path d="M104.7,308.2C104.8,304.3 105.0,291.7 105.2,285.0C105.4,278.3 105.5,273.5 105.8,268.0C106.1,262.5 106.6,257.6 107.2,252.0C107.8,246.4 108.7,240.6 109.4,234.3C110.1,228.0 110.9,219.7 111.6,214.0C112.2,208.3 112.7,204.3 113.3,200.0C113.9,195.7 114.4,191.7 115.0,188.0C115.6,184.3 116.3,181.3 117.0,178.0C117.7,174.7 118.6,170.8 119.4,168.0C120.2,165.2 120.8,163.2 121.6,161.0C122.4,158.8 122.8,157.1 124.0,154.8C125.2,152.5 126.8,149.1 128.5,147.1C130.2,145.1 131.5,144.4 134.0,142.9C136.5,141.4 140.5,139.3 143.7,138.2C146.8,137.1 150.2,136.9 152.9,136.5C155.6,136.1 157.5,136.1 160.0,136.0C162.5,135.9 166.7,135.8 168.0,135.7" fill="none" stroke="#3a3a3a" stroke-width="1.0"/>
<path d="M205.0,136.6C206.7,136.4 211.8,135.9 215.3,135.4C218.9,134.9 222.8,134.1 226.3,133.6C229.8,133.1 232.0,132.9 236.4,132.6C240.8,132.2 247.0,131.8 252.6,131.5C258.2,131.2 264.2,130.8 270.0,130.5C275.8,130.2 281.8,130.0 287.6,129.5C293.4,129.0 299.6,128.3 305.0,127.6C310.4,126.9 315.8,126.0 320.0,125.2C324.2,124.4 324.7,123.3 330.5,122.8C336.3,122.2 348.0,121.9 355.0,121.9C362.0,121.9 367.6,122.3 372.6,122.8C377.6,123.3 381.5,124.1 385.0,124.8C388.5,125.5 390.4,126.3 393.6,127.2C396.8,128.1 400.3,129.3 404.0,130.1C407.7,130.9 414.0,131.8 416.0,132.2" fill="none" stroke="#3a3a3a" stroke-width="1.0"/>
<path d="M500.0,119.3C501.8,118.4 507.0,116.4 510.5,114.1C514.0,111.8 517.5,109.1 521.0,105.3C524.5,101.5 528.6,95.5 531.5,91.3C534.4,87.1 536.2,83.4 538.2,80.0C540.2,76.6 541.8,73.6 543.3,70.9C544.8,68.2 546.2,65.7 547.4,63.7C548.6,61.7 549.5,60.1 550.4,59.0C551.3,57.9 552.1,57.5 553.0,57.0C553.9,56.5 554.8,56.4 555.5,56.3C556.2,56.2 556.2,56.0 557.1,56.5C558.0,57.0 559.4,57.9 560.7,59.1C562.0,60.3 563.4,61.9 564.7,63.7C566.1,65.5 567.4,67.9 568.8,69.9C570.2,72.0 571.5,74.1 572.9,76.0C574.3,77.9 575.1,78.8 577.0,81.3C578.9,83.8 581.8,88.5 584.0,91.3C586.2,94.1 588.0,96.3 590.0,98.0C592.0,99.7 594.1,100.8 596.0,101.6C597.9,102.4 599.5,102.0 601.2,102.6C602.9,103.2 604.4,104.2 606.3,105.2C608.2,106.2 610.5,107.3 612.6,108.3C614.7,109.3 616.7,110.5 618.8,111.4C620.9,112.4 622.9,113.1 625.0,114.0C627.1,114.9 629.1,115.6 631.2,116.6C633.3,117.5 635.7,119.0 637.4,119.7C639.1,120.4 640.4,120.6 641.5,120.7C642.6,120.8 642.9,120.5 644.0,120.6C645.1,120.7 646.7,121.2 648.0,121.5C649.3,121.8 650.7,122.0 652.0,122.5C653.3,123.0 655.0,123.9 656.0,124.5C657.0,125.1 657.7,125.8 658.0,126.0" fill="none" stroke="#3a3a3a" stroke-width="1.0"/>
<path d="M124.2,215.6L125.2,211.6L126.4,214.6M143.9,202.6L145,198.9L145.6,202.2M135.2,209.2L136,206.6L137,208.4M113,227.6L113.8,224.8L114.6,226.8" fill="none" stroke="#444" stroke-width="0.9"/>
<path d="M451.6,265.7L427.5,250.3" stroke="#333" stroke-width="1.2" fill="none"/>
<path d="M419.6,245.1L429.9,248.5L426.6,252.9Z" fill="#111"/>
<path transform="translate(458.00,281.00) scale(0.010254,-0.010254)" d="M763,0L583,0L583,1098C540,1059 483,1019 413,980C343,941 280,911 223,891L223,1058C324,1103 413,1158 488,1222C563,1286 616,1350 647,1409L763,1409Z" fill="#111" stroke="#111" stroke-width="14.6"/>
<text x="469.2" y="270" font-size="12" fill="#111">st</text>
<path d="M348.4,318.4L358,310.5" stroke="#333" stroke-width="1.2" fill="none"/>
<path d="M364.7,303.3L355.5,308.3L359.6,312Z" fill="#111"/>
<text x="320" y="334.6" font-size="20" fill="#111">2</text>
<text x="331.8" y="323.4" font-size="12" fill="#111">nd</text>
<text x="366" y="305.4" font-size="20" fill="#111">5</text>
<text x="377.3" y="294.6" font-size="12" fill="#111">th</text>
</svg>
</body></html>
